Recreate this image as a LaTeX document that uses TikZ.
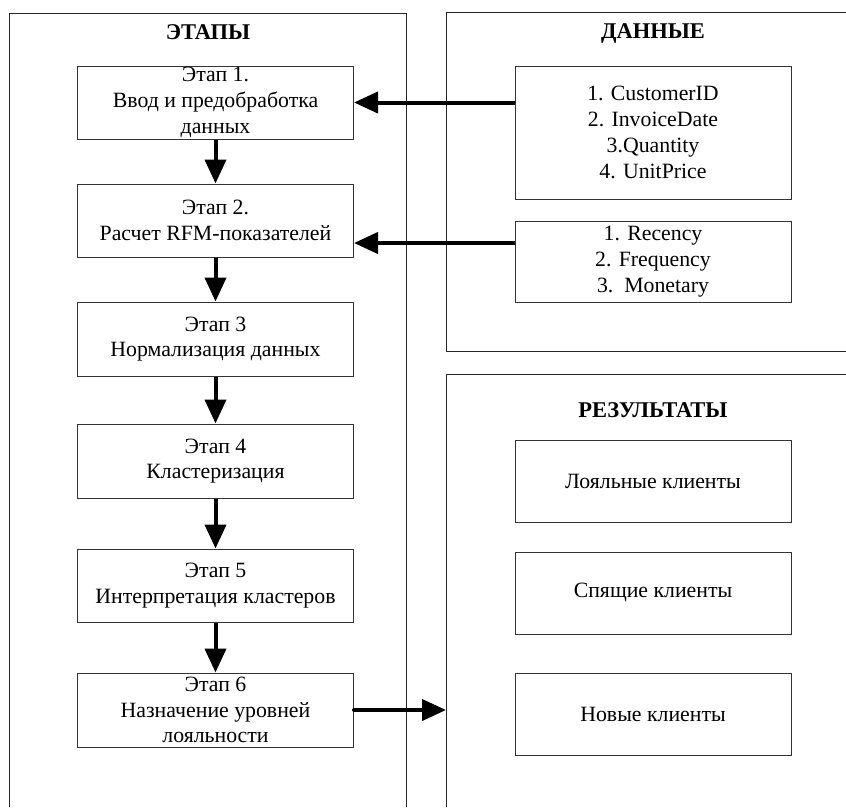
\documentclass[tikz,border=0pt]{standalone}
\usepackage{fontspec}
\setmainfont{Liberation Serif}
\usetikzlibrary{arrows.meta}
\begin{document}
\begin{tikzpicture}[x=1pt,y=-1pt,
  frame/.style={draw=black!85, line width=1pt},
  box/.style={draw=black!80, line width=1pt, minimum width=276pt, align=center,
    inner sep=0pt, font=\fontsize{21.8}{25.8}\selectfont},
  ttl/.style={font=\bfseries\fontsize{22.5}{26}\selectfont},
  arr/.style={line width=4pt, -{Triangle[length=24pt,width=21pt]}},
]
\useasboundingbox (0,0) rectangle (846,807);
% frames
\draw[frame] (9,807) -- (9,13) -- (406,13) -- (406,807);
\draw[frame] (846,12) -- (446,12) -- (446,351) -- (846,351);
\draw[frame] (846,374) -- (446,374) -- (446,807);
% titles
\node[ttl] (t1) at (208,32) {ЭТАПЫ};
\node[ttl] (t2) at (653,33) {ДАННЫЕ};
\node[ttl] (t3) at (653,410) {РЕЗУЛЬТАТЫ};
% stages
\node[box, minimum height=73pt] (s1) at (215.5,102.5) {Этап 1.\\Ввод и предобработка\\данных};
\node[box, minimum height=73pt] (s2) at (215.5,220.5) {Этап 2.\\Расчет RFM-показателей};
\node[box, minimum height=74pt] (s3) at (215.5,339) {Этап 3\\Нормализация данных};
\node[box, minimum height=74pt] (s4) at (215.5,461) {Этап 4\\Кластеризация};
\node[box, minimum height=73pt] (s5) at (215.5,585.5) {Этап 5\\Интерпретация кластеров};
\node[box, minimum height=74pt] (s6) at (215.5,710) {Этап 6\\Назначение уровней\\лояльности};
% data
\node[box, minimum height=133pt] (d1) at (653,132.5) {1. CustomerID\\2. InvoiceDate\\3.Quantity\\4. UnitPrice};
\node[box, minimum height=81pt] (d2) at (653,261.5) {1. Recency\\2. Frequency\\3.\ \ Monetary};
% results
\node[box, minimum height=82pt] (r1) at (653,481) {Лояльные клиенты};
\node[box, minimum height=82pt] (r2) at (653,593) {Спящие клиенты};
\node[box, minimum height=82pt] (r3) at (653,714) {Новые клиенты};
% connectors
\draw[arr] (s1) -- (s2);
\draw[arr] (s2) -- (s3);
\draw[arr] (s3) -- (s4);
\draw[arr] (s4) -- (s5);
\draw[arr] (s5) -- (s6);
\draw[arr] (d1.west |- s1.east) -- (s1.east);
\coordinate (a2) at (515,243);
\draw[arr] (a2) -- (a2 -| s2.east);
\coordinate (rin) at (446,710);
\draw[arr, line cap=round] (s6.east) -- (rin);
\end{tikzpicture}
\end{document}
